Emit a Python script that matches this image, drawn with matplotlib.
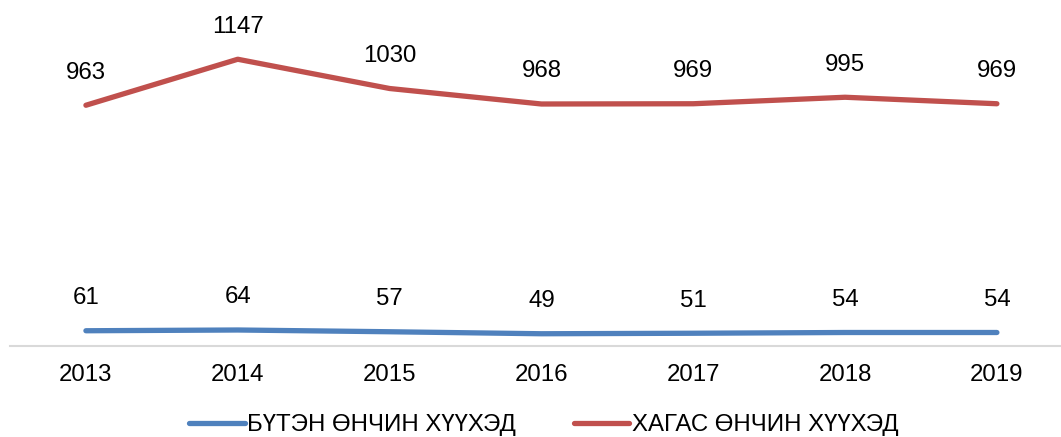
import matplotlib
matplotlib.use("Agg")
import matplotlib.pyplot as plt

plt.rcParams['font.family'] = ['Liberation Sans', 'DejaVu Sans']

years = ['2013', '2014', '2015', '2016', '2017', '2018', '2019']
full_orphans = [61, 64, 57, 49, 51, 54, 54]
half_orphans = [963, 1147, 1030, 968, 969, 995, 969]
series_names = ['БҮТЭН ӨНЧИН ХҮҮХЭД', 'ХАГАС ӨНЧИН ХҮҮХЭД']
colors = ['#4F81BD', '#C0504D']

W, H = 1061, 437
FS = 17.3
fig = plt.figure(figsize=(W / 100, H / 100), dpi=100)
ax = fig.add_axes([10 / W, (H - 346) / H, 1 - 10 / W, 346 / H])

x = list(range(len(years)))
for vals, c, name in zip([full_orphans, half_orphans], colors, series_names):
    ax.plot(x, vals, color=c, lw=3.8, solid_capstyle='round', solid_joinstyle='round', label=name)
    for xi, v in zip(x, vals):
        ax.annotate(str(v), (xi, v), xytext=(0, 23.5), textcoords='offset points',
                    ha='center', va='center', fontsize=FS, color='#000000')

ax.set_xlim(-0.5, -0.5 + 1051 / 151.83)
ax.set_ylim(0, 346 / 0.25)
ax.set_xticks(x)
ax.set_xticklabels(years, fontsize=FS)
ax.tick_params(axis='x', length=0, pad=13)
ax.set_yticks([])
for s in ['top', 'right', 'left']:
    ax.spines[s].set_visible(False)
ax.spines['bottom'].set_color('#D9D9D9')
ax.spines['bottom'].set_linewidth(1.5)
ax.patch.set_alpha(0)

fig.legend(loc='center', bbox_to_anchor=(544 / W, 1 - 425 / H), ncol=2, frameon=False,
           fontsize=FS, handlelength=2.3, handletextpad=0.12, columnspacing=2.4,
           borderpad=0, borderaxespad=0)

fig.savefig('out.png', dpi=100)
